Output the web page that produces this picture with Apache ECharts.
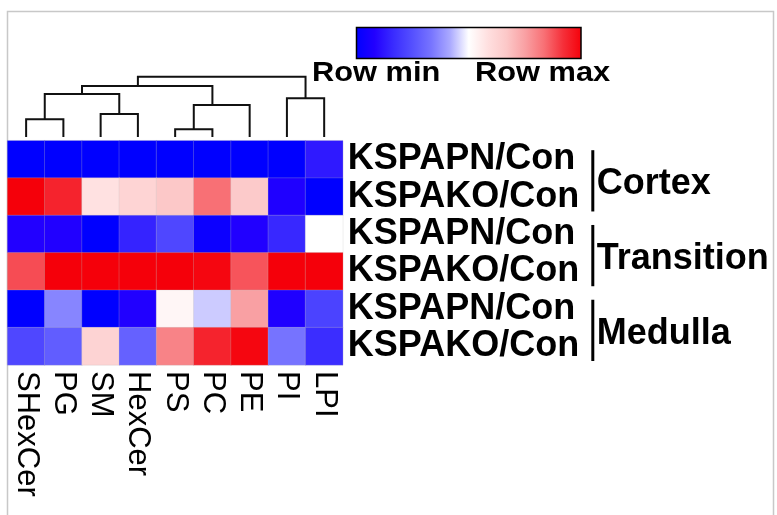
<!DOCTYPE html>
<html><head><meta charset="utf-8">
<script src="https://cdn.jsdelivr.net/npm/echarts@6/dist/echarts.min.js"></script>
<style>html,body{margin:0;padding:0;background:#fff}#c{width:777px;height:515px}</style>
</head><body><div id="c"></div>
<script>
// ---------- data ----------
const columns = ['SHexCer','PG','SM','HexCer','PS','PC','PE','PI','LPI'];
const rowLabels = ['KSPAPN/Con','KSPAKO/Con','KSPAPN/Con','KSPAKO/Con','KSPAPN/Con','KSPAKO/Con'];
const groups = ['Cortex','Transition','Medulla'];
const groupRows = [[0,1],[2,3],[4,5]];
// relative value within row: 0 = row min, 1 = row max
const cortexPN     = [0, 0, 0, 0, 0, 0, 0, 0, 0.13];
const cortexKO     = [1, 0.94, 0.58, 0.625, 0.667, 0.833, 0.66, 0.075, 0];
const transitionPN = [0.083, 0.08, 0, 0.15, 0.23, 0.03, 0.08, 0.16, 0.5];
const transitionKO = [0.88, 1, 1, 1, 1, 0.99, 0.87, 1, 1];
const medullaPN    = [0, 0.36, 0, 0.08, 0.525, 0.45, 0.75, 0.075, 0.22];
const medullaKO    = [0.23, 0.28, 0.63, 0.29, 0.8, 0.94, 0.99, 0.33, 0.17];
const rowValues = [cortexPN, cortexKO, transitionPN, transitionKO, medullaPN, medullaKO];
// column dendrogram merges: [leftNode, rightNode, height]; leaves are 0..8, new nodes 9..16
const dendroMerges = [
  [0, 1, 0.294],
  [2, 3, 0.381],
  [4, 5, 0.128],
  [11, 6, 0.531],
  [7, 8, 0.642],
  [9, 10, 0.713],
  [14, 12, 0.846],
  [15, 13, 1.0]
];
const legendTexts = ['Row min', 'Row max'];

// ---------- styles ----------
const colorStops = ['#0000ff','#2200ff','#3a2cff','#5550ff','#7774ff','#aaa9ff','#ffffff',
                    '#ffe0e0','#fcc8c8','#f9a0a3','#f87075','#f5303a','#f5000a'];
const FONT = '"Liberation Sans", Arial, Helvetica, sans-serif';

// ---------- build ----------
const heatData = [];
rowValues.forEach((vals, r) => vals.forEach((v, c) => heatData.push([c, r, v])));

const nodeLeaves = columns.map((_, i) => [i]);
const nodeHeight = columns.map(() => 0);
const dendroData = [];
dendroMerges.forEach(([a, b, h]) => {
  const la = nodeLeaves[a], lb = nodeLeaves[b];
  const xa = la.reduce((s, v) => s + v, 0) / la.length;
  const xb = lb.reduce((s, v) => s + v, 0) / lb.length;
  dendroData.push([xa, nodeHeight[a], xb, nodeHeight[b], h]);
  nodeLeaves.push(la.concat(lb));
  nodeHeight.push(h);
});

const chart = echarts.init(document.getElementById('c'), null, {renderer: 'canvas'});
const gridLeft = 7.5, gridWidth = 335.3;

chart.setOption({
  animation: false,
  backgroundColor: '#fff',
  grid: [
    {left: gridLeft, top: 140.7, width: gridWidth, height: 224.3},
    {left: gridLeft, top: 76.7, width: gridWidth, height: 60.3}
  ],
  xAxis: [
    {type: 'category', data: columns, gridIndex: 0, position: 'bottom',
     axisLine: {show: false}, axisTick: {show: false}, splitLine: {show: false},
     axisLabel: {rotate: -90, margin: 6, fontSize: 31, color: '#000', fontFamily: FONT, interval: 0}},
    {type: 'value', gridIndex: 1, min: -0.5, max: 8.5, show: false}
  ],
  yAxis: [
    {type: 'category', data: rowLabels, gridIndex: 0, inverse: true, position: 'right',
     axisLine: {show: false}, axisTick: {show: false}, splitLine: {show: false},
     axisLabel: {margin: 5, fontSize: 36, fontWeight: 'bold', color: '#000', fontFamily: FONT, interval: 0,
                 formatter: (v, i) => rowLabels[i]}},
    {type: 'value', gridIndex: 1, min: 0, max: 1, show: false}
  ],
  visualMap: {type: 'continuous', show: false, min: 0, max: 1, dimension: 2, seriesIndex: 0,
              inRange: {color: colorStops}},
  series: [
    {type: 'heatmap', xAxisIndex: 0, yAxisIndex: 0, data: heatData,
     itemStyle: {borderColor: 'rgba(190,190,190,0.45)', borderWidth: 0.6}},
    {type: 'custom', xAxisIndex: 1, yAxisIndex: 1, data: dendroData, clip: false,
     renderItem: (params, api) => {
       const p1 = api.coord([api.value(0), api.value(1)]);
       const p2 = api.coord([api.value(0), api.value(4)]);
       const p3 = api.coord([api.value(2), api.value(4)]);
       const p4 = api.coord([api.value(2), api.value(3)]);
       return {type: 'polyline', shape: {points: [p1, p2, p3, p4]},
               style: {stroke: '#111', lineWidth: 2, fill: null}};
     }}
  ]
});

// annotations computed from the axes
const c0 = chart.convertToPixel({xAxisIndex: 0, yAxisIndex: 0}, [0, 0]);
const c1 = chart.convertToPixel({xAxisIndex: 0, yAxisIndex: 0}, [1, 1]);
const rowH = c1[1] - c0[1];
const rightEdge = chart.convertToPixel({xAxisIndex: 0, yAxisIndex: 0}, [columns.length - 1, 0])[0] + (c1[0] - c0[0]) / 2;
const graphics = [];
graphics.push({type: 'rect', z: -10, silent: true,
  shape: {x: 7.5, y: 11.5, width: 766, height: 520},
  style: {fill: null, stroke: '#c8c8c8', lineWidth: 1.5}});
const barX = rightEdge + 250;
groupRows.forEach((rows, gi) => {
  const top = chart.convertToPixel({xAxisIndex: 0, yAxisIndex: 0}, [0, rows[0]])[1] - rowH / 2;
  const bot = chart.convertToPixel({xAxisIndex: 0, yAxisIndex: 0}, [0, rows[rows.length - 1]])[1] + rowH / 2;
  graphics.push({type: 'rect', silent: true,
    shape: {x: barX - 1.5, y: top + 9.5, width: 3, height: bot - top - 13.5},
    style: {fill: '#000'}});
  graphics.push({type: 'text', silent: true, x: barX + 4, y: (top + bot) / 2 + 6,
    style: {text: groups[gi], font: 'bold 36px ' + FONT, fill: '#000', align: 'left', verticalAlign: 'middle'}});
});
// colour legend
graphics.push({type: 'rect', silent: true,
  shape: {x: 356.5, y: 27.5, width: 224.5, height: 31},
  style: {fill: new echarts.graphic.LinearGradient(0, 0, 1, 0,
            colorStops.map((c, i) => ({offset: i / (colorStops.length - 1), color: c}))),
          stroke: '#000', lineWidth: 1.5}});
graphics.push({type: 'text', silent: true, x: 312, y: 73.5, scaleX: 1.1,
  style: {text: legendTexts[0], font: 'bold 28px ' + FONT, fill: '#000', align: 'left', verticalAlign: 'middle'}});
graphics.push({type: 'text', silent: true, x: 475, y: 73.5, scaleX: 1.1,
  style: {text: legendTexts[1], font: 'bold 28px ' + FONT, fill: '#000', align: 'left', verticalAlign: 'middle'}});
chart.setOption({graphic: graphics});
</script></body></html>
